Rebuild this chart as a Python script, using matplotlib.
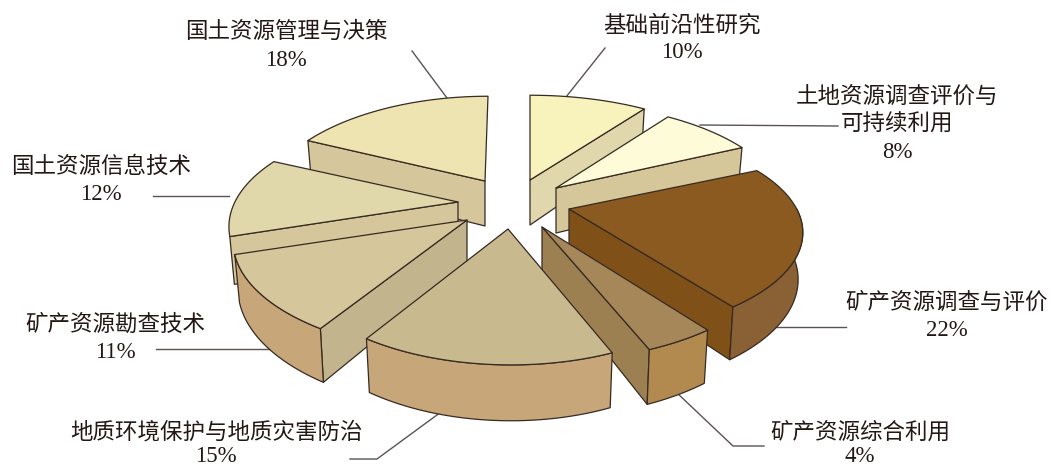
import numpy as np
import matplotlib
matplotlib.use("Agg")
import matplotlib.pyplot as plt
from matplotlib.patches import Polygon

plt.rcParams["font.family"] = ["Liberation Serif", "Noto Sans CJK SC"]

# values, clockwise from 12 o'clock
names = ["基础前沿性研究", "土地资源调查评价与\n可持续利用", "矿产资源调查与评价", "矿产资源综合利用",
         "地质环境保护与地质灾害防治", "矿产资源勘查技术", "国土资源信息技术", "国土资源管理与决策"]
values = [10, 8, 22, 4, 15, 11, 12, 18]

# exploded apex of each slice in pixels, and its squeeze
apex = [(530, 180), (556, 188), (569, 209), (542, 227), (508, 229), (467, 220), (458, 202), (485, 181)]
squeeze = [1.0, 0.98, 0.99, 1.0, 0.945, 0.995, 0.97, 0.94]
squeeze_y = [1.0, 1.0, 0.95, 1.0, 1.01, 1.0, 1.0, 1.0]
lean = [0, 0, 0, 0, -3, -6, 0, 3]
top_col = ["#f8f2bd", "#fefbd8", "#8b5a20", "#a6875a", "#c8b98f", "#d5c79b", "#e0d8aa", "#eee4b1"]
side_col = ["#e0d8ac", "#d6c79b", "#7f5118", "#9d8052", "#c8b98f", "#c2b48c", "#d5c79b", "#d5c79b"]
rim_col = ["#e0d8ac", "#d6c79b", "#8a6035", "#b28a50", "#c7a679", "#c7a679", None, None]
order = [0, 1, 2, 7, 6, 5, 3, 4]

label_xy = [(682, 24), (897, 96), (947, 302), (860, 431), (216, 431), (115, 324), (101, 166), (286, 31)]
leaders = [[(605, 48), (566, 97)],
           [(838, 126), (700, 125)],
           [(846, 327), (773, 327)],
           [(764, 446), (733, 446), (676, 392)],
           [(350, 459), (377, 459), (441, 412)],
           [(156, 349), (273, 349)],
           [(153, 196), (229, 196)],
           [(412, 51), (447, 98)]]

R, S, K, DEPTH = 230, 104, 0.227, 45
edge = "#362a22"
ink = "#231815"


def project(i, theta, z):
    t = np.radians(theta)
    d = 1 + K * np.sin(t)
    x = R * squeeze[i] * (1 - 0.02 * z) * np.cos(t) / d + lean[i] * np.sin(t)
    y = DEPTH * z - S * squeeze_y[i] * (1 + 0.08 * z) * np.sin(t) / d
    return np.column_stack([apex[i][0] + x, apex[i][1] + y])


fig = plt.figure(figsize=(10.51, 4.68), dpi=100)
ax = fig.add_axes([0, 0, 1, 1])
ax.set_xlim(0, 1051)
ax.set_ylim(468, 0)
ax.axis("off")

for pts in leaders:
    xs, ys = zip(*pts)
    ax.plot(xs, ys, color="#5a5350", lw=1.0, zorder=1)

edges = 90 - np.cumsum([0] + values) * 3.6
z = 2
for i in order:
    a0, a1 = edges[i], edges[i + 1]
    ctop = np.array([apex[i]], dtype=float)
    cbot = ctop + [0, DEPTH]
    faces = []
    # only the walls that face the viewer
    if np.cos(np.radians(a0)) < 0:
        faces.append((np.vstack([ctop, project(i, a0, 0), project(i, a0, 1), cbot]), side_col[i]))
    if np.cos(np.radians(a1)) > 0:
        faces.append((np.vstack([ctop, project(i, a1, 0), project(i, a1, 1), cbot]), side_col[i]))
    r0, r1 = min(a0, 0), max(a1, -180)
    if r0 > r1 and rim_col[i]:
        rim = np.linspace(r0, r1, 50)
        faces.append((np.vstack([project(i, rim, 0), project(i, rim, 1)[::-1]]), rim_col[i]))
    faces.append((np.vstack([ctop, project(i, np.linspace(a0, a1, 60), 0)]), top_col[i]))
    for poly, col in faces:
        ax.add_patch(Polygon(poly, closed=True, facecolor=col, edgecolor=edge,
                             lw=0.9, joinstyle="round", zorder=z))
        z += 1

for name, v, (x, y) in zip(names, values, label_xy):
    lines = name.split("\n")
    for k, s in enumerate(lines):
        ax.text(x, y + 1.5 + 27.5 * k, s, ha="center", va="center", fontsize=16.2,
                color=ink, fontweight="light", zorder=50)
    # bottom row sits against the edge of the picture
    ax.text(x, min(y + 1.5 + 27.5 * len(lines), 456.5), f"{v}%", ha="center", va="center",
            fontsize=16.5, color=ink, zorder=50)

fig.savefig("out.png", dpi=100)
plt.close()
